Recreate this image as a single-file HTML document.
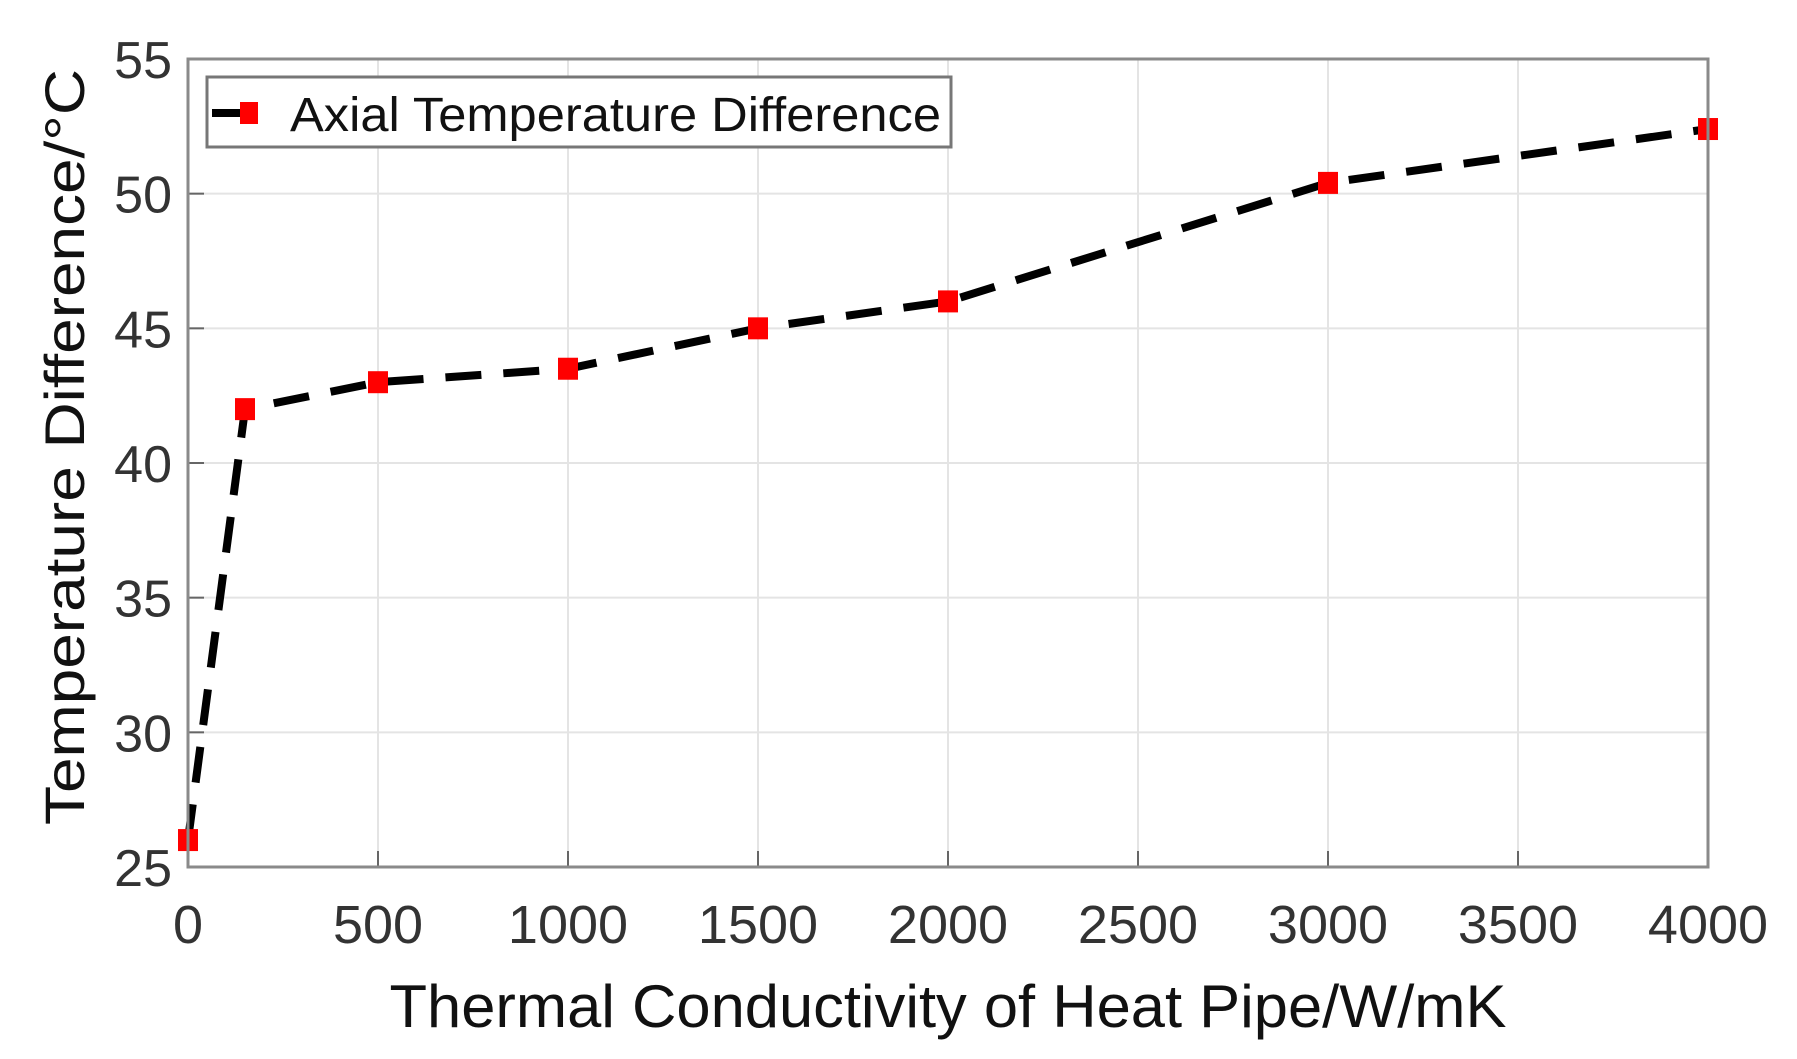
<!DOCTYPE html>
<html><head><meta charset="utf-8"><style>
html,body{margin:0;padding:0;background:#fff;}
svg{display:block;font-family:"Liberation Sans",Arial,sans-serif;}
</style></head><body>
<svg id="chart" width="1797" height="1059" viewBox="0 0 1797 1059" xmlns="http://www.w3.org/2000/svg">
<rect width="1797" height="1059" fill="#fff"/>
<g id="grid"></g>
<g id="ticks"></g>
<g id="series"></g>
<rect x="188" y="59" width="1520" height="808" fill="none" stroke="#8a8a8a" stroke-width="3"/>
<text x="948" y="1027" font-size="60" text-anchor="middle" textLength="1117" lengthAdjust="spacingAndGlyphs" fill="#111">Thermal Conductivity of Heat Pipe/W/mK</text>
<text transform="translate(84,447) rotate(-90)" font-size="56" text-anchor="middle" textLength="756" lengthAdjust="spacingAndGlyphs" fill="#111">Temperature Difference/°C</text>
<g>
<rect x="207" y="77" width="744" height="70" fill="#fff" stroke="#777" stroke-width="3"/>
<line x1="212" y1="113" x2="252" y2="113" stroke="#000" stroke-width="8"/>
<rect x="240" y="102" width="18" height="22" fill="#f00"/>
<text x="290" y="131" font-size="48" textLength="651" lengthAdjust="spacingAndGlyphs" fill="#111">Axial Temperature Difference</text>
</g>
</svg>
<script>
const categories = [0, 150, 500, 1000, 1500, 2000, 3000, 4000];
const tempDiff = [26, 42, 43, 43.5, 45, 46, 50.4, 52.4];
const xTicks = [0, 500, 1000, 1500, 2000, 2500, 3000, 3500, 4000];
const yTicks = [25, 30, 35, 40, 45, 50, 55];
const X0=188, X1=1708, Y0=867, Y1=59;
const xs = v => X0 + (v-0)/(4000-0)*(X1-X0);
const ys = v => Y0 - (v-25)/(55-25)*(Y0-Y1);
const NS='http://www.w3.org/2000/svg';
const grid=document.getElementById('grid'), ticks=document.getElementById('ticks'), series=document.getElementById('series');
function mk(tag, attrs, parent){const e=document.createElementNS(NS,tag);for(const k in attrs)e.setAttribute(k,attrs[k]);parent.appendChild(e);return e;}
xTicks.forEach(t=>{
  const x=xs(t);
  const g=mk('line',{x1:x,y1:Y0,x2:x,y2:Y1,stroke:'#e4e4e4','stroke-width':2},grid);
  
  
  const tk=mk('line',{x1:x,y1:Y0,x2:x,y2:Y0-16,stroke:'#666','stroke-width':2},ticks);
  
  
  const lb=mk('text',{x:x,y:943,'font-size':54,'text-anchor':'middle',fill:'#333'},ticks);
  lb.textContent=t;
  
  
});
yTicks.forEach(t=>{
  const y=ys(t);
  const g=mk('line',{x1:X0,y1:y,x2:X1,y2:y,stroke:'#e4e4e4','stroke-width':2},grid);
  
  
  const tk=mk('line',{x1:X0,y1:y,x2:X0+16,y2:y,stroke:'#666','stroke-width':2},ticks);
  
  
  const lb=mk('text',{x:172,y:y+19,'font-size':52,'text-anchor':'end',fill:'#333'},ticks);
  lb.textContent=t;
  
  
});
const pts=categories.map((c,i)=>xs(c)+','+ys(tempDiff[i])).join(' ');
const pl=mk('polyline',{points:pts,fill:'none',stroke:'#000','stroke-width':8,'stroke-dasharray':'36 22'},series);


categories.forEach((c,i)=>{
  const m=mk('rect',{x:xs(c)-10,y:ys(tempDiff[i])-11,width:20,height:22,fill:'#f00'},series);
  
  
});
</script>
</body></html>
